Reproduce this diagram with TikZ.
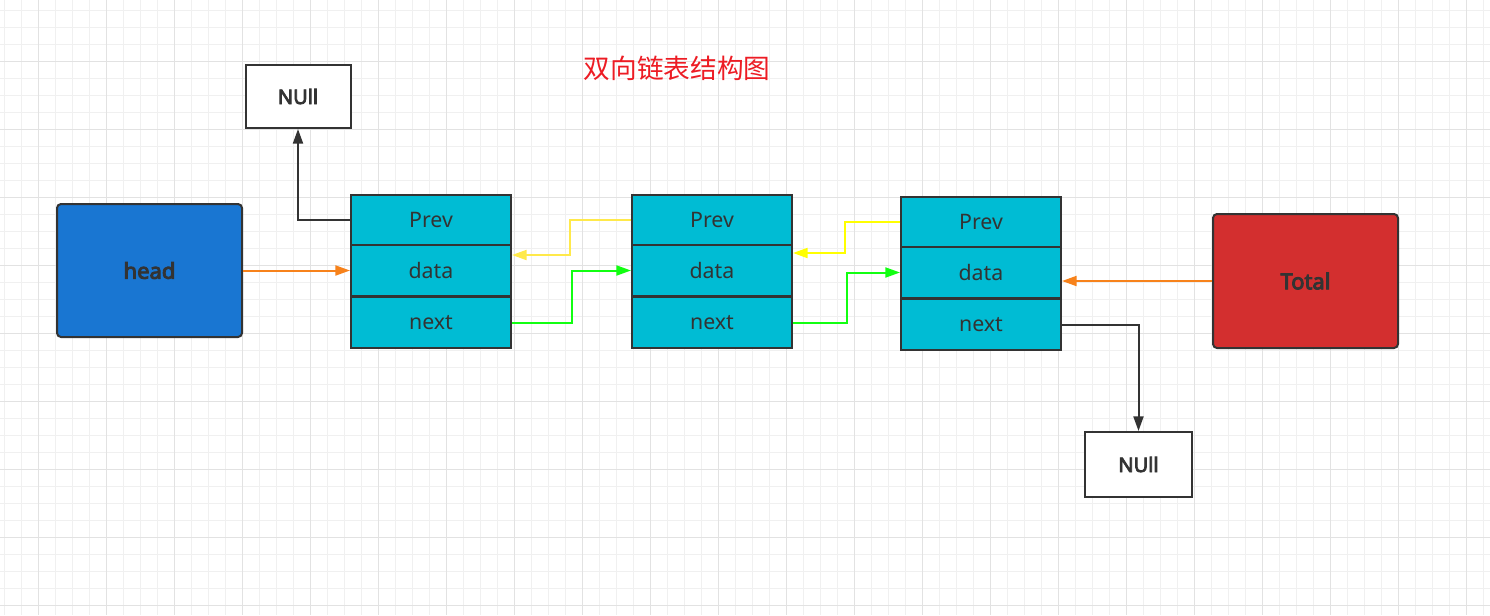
\documentclass[tikz,border=0pt]{standalone}
\usepackage{fontspec}
\setmainfont{Noto Sans}
\newfontfamily\heavy{Noto Sans}[FakeBold=4]
\newfontfamily\cjk{Noto Sans CJK SC}
\usetikzlibrary{calc,arrows.meta}

\definecolor{ink}{HTML}{333333}
\definecolor{cellcyan}{HTML}{00BCD4}
\definecolor{headblue}{HTML}{1976D2}
\definecolor{totalred}{HTML}{D32F2F}
\definecolor{linkorange}{HTML}{F7821B}
\definecolor{linkyellowA}{HTML}{FFE94A}
\definecolor{linkyellowB}{HTML}{FFFF00}
\definecolor{linkgreen}{HTML}{11FF11}
\definecolor{titlered}{HTML}{ED1C24}
\definecolor{gridminor}{HTML}{F0F0F0}
\definecolor{gridmajor}{HTML}{E2E2E2}

\begin{document}
\begin{tikzpicture}[x=0.75pt,y=-0.75pt,
  cell/.style={draw=ink,line width=1.5pt,fill=cellcyan,text=ink,inner sep=0pt,
    minimum width=120pt,minimum height=38pt,font=\fontsize{16pt}{19pt}\selectfont},
  endbox/.style={draw=ink,line width=1.5pt,rounded corners=3pt,text=ink,inner sep=0pt,
    minimum width=138.75pt,font=\heavy\fontsize{16.5pt}{19pt}\selectfont},
  nullbox/.style={draw=ink,line width=1.5pt,fill=white,text=ink,inner sep=0pt,
    font=\heavy\fontsize{15pt}{18pt}\selectfont},
  link/.style={line width=1.5pt,-{Triangle[length=11pt,width=7.5pt]}},
  title/.style={text=titlered,font=\cjk\fontsize{20pt}{24pt}\selectfont}]

% background and grid
\fill[white] (0,0) rectangle (1490,615);
\useasboundingbox (0,0) rectangle (1490,615);
\foreach \x in {4,21,...,1490} \draw[gridminor,line width=0.75pt] (\x,0) -- (\x,615);
\foreach \y in {10,27,...,615} \draw[gridminor,line width=0.75pt] (0,\y) -- (1490,\y);
\foreach \x in {38,106,...,1490} \draw[gridmajor,line width=0.75pt] (\x,0) -- (\x,615);
\foreach \y in {61,129,...,615} \draw[gridmajor,line width=0.75pt] (0,\y) -- (1490,\y);

\node[title] (ttl) at (677,68) {双向链表结构图};

% head and total
\node[endbox,fill=headblue,minimum height=99.75pt] (head) at (149.5,270.5) {head};
\node[endbox,fill=totalred,minimum height=100.5pt] (tot) at (1305.5,281) {Total};

% null boxes
\node[nullbox,minimum width=78.75pt,minimum height=47.25pt] (n1) at (298,96.5) {NUll};
\node[nullbox,minimum width=80.25pt,minimum height=48.75pt] (n2) at (1138.5,464.5) {NUll};

% list nodes
\node[cell] (p1) at (431,220) {Prev};
\node[cell] (d1) at (431,270.5) {data};
\node[cell] (x1) at (431,322.5) {next};
\node[cell] (p2) at (712,220) {Prev};
\node[cell] (d2) at (712,270.5) {data};
\node[cell] (x2) at (712,322.5) {next};
\node[cell] (p3) at (981,222) {Prev};
\node[cell] (d3) at (981,272.5) {data};
\node[cell] (x3) at (981,324.5) {next};

% links
\draw[link,linkorange] (head.east) -- (d1.west);
\draw[link,linkorange] (tot.west) -- (tot.west -| d3.east);
\draw[link,ink] (p1.west) -| (n1.south);
\draw[link,ink] (x3.east) -| (n2.north);
\draw[link,linkyellowA] (p2.west) -- ++(-61,0) |- ($(d1.east)+(0,-15.5)$);
\draw[link,linkyellowB] (p3.west) -- ++(-55,0) |- ($(d2.east)+(0,-17.5)$);
\draw[link,linkgreen] (x1.east) -- ++(60,0) |- (d2.west);
\draw[link,linkgreen] (x2.east) -- ++(54,0) |- (d3.west);
\end{tikzpicture}
\end{document}
